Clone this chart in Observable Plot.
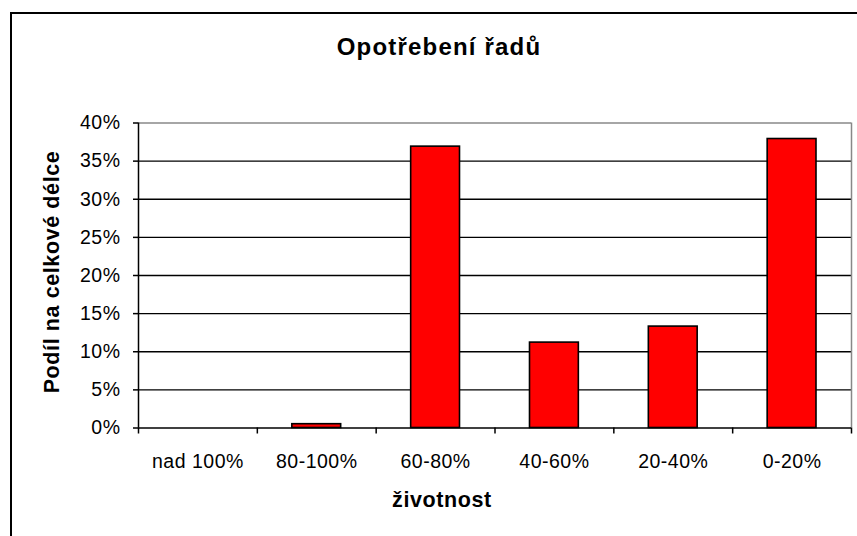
<!DOCTYPE html>
<html>
<head>
<meta charset="utf-8">
<script src="https://cdn.jsdelivr.net/npm/d3@7"></script>
<script src="https://cdn.jsdelivr.net/npm/@observablehq/plot@0.6"></script>
<style>
  html, body { margin: 0; padding: 0; background: #fff; overflow: hidden; }
  body { width: 857px; height: 536px; position: relative; font-family: "Liberation Sans", Arial, sans-serif; }
  #frame { position: absolute; left: 10px; top: 12px; width: 900px; height: 600px; border: 2px solid #000; box-sizing: border-box; }
  #chart { position: absolute; left: 0; top: 0; }
  .lbl { position: absolute; font-weight: bold; color: #000; white-space: nowrap; }
  #title { left: 0; width: 878px; top: 34.7px; text-align: center; font-size: 24px; line-height: 24px; letter-spacing: 1.2px; }
  #ylab { left: 52.5px; top: 271.5px; font-size: 21.5px; line-height: 21.5px; letter-spacing: 0.6px; transform: translate(-50%, -50%) rotate(-90deg); }
  #xlab { left: 442px; top: 501px; font-size: 21.5px; line-height: 21.5px; letter-spacing: 0.6px; transform: translate(-50%, -50%); }
</style>
</head>
<body>
<div id="frame"></div>
<div id="chart"></div>
<div class="lbl" id="title">Opotřebení řadů</div>
<div class="lbl" id="ylab">Podíl na celkové délce</div>
<div class="lbl" id="xlab">životnost</div>
<script>
const categories = ["nad 100%", "80-100%", "60-80%", "40-60%", "20-40%", "0-20%"];
const values = [0, 0.5, 36.9, 11.2, 13.3, 37.9];
const yTicks = [0, 5, 10, 15, 20, 25, 30, 35, 40];
const gridTicks = [5, 10, 15, 20, 25, 30, 35];

const data = categories.map((c, i) => ({cat: c, i, v: values[i]}));
const bounds = d3.range(categories.length + 1);
const centers = categories.map((c, i) => i + 0.5);

const plot = Plot.plot({
  width: 857,
  height: 536,
  marginLeft: 138,
  marginRight: 6,
  marginTop: 122.5,
  marginBottom: 108.5,
  style: {fontFamily: "Liberation Sans, Arial, sans-serif", fontSize: "19.5px", letterSpacing: "0.5px", color: "#000", background: "transparent"},
  x: {type: "linear", domain: [0, categories.length], axis: null},
  y: {domain: [0, 40], axis: null},
  marks: [
    Plot.gridY(gridTicks, {stroke: "#000", strokeOpacity: 1, strokeWidth: 1.3}),
    Plot.ruleY([40], {stroke: "#888", strokeWidth: 1.5}),
    Plot.ruleX([categories.length], {stroke: "#888", strokeWidth: 1.5}),
    Plot.rectY(data.filter(d => d.v > 0), {
      x1: "i", x2: d => d.i + 1, y: "v",
      fill: "#ff0000", stroke: "#000", strokeWidth: 1.6,
      insetLeft: 35, insetRight: 35
    }),
    Plot.ruleX([0], {stroke: "#000", strokeWidth: 1.5}),
    Plot.ruleY([0], {stroke: "#000", strokeWidth: 1.5}),
    Plot.axisY({ticks: yTicks, tickFormat: d => d + "%", tickSize: 5, tickPadding: 13, stroke: "#000", strokeWidth: 1.5, fontSize: 19.5, fill: "#000", label: null}),
    Plot.axisX({ticks: bounds, tickFormat: () => "", tickSize: 6, stroke: "#000", strokeWidth: 1.5, label: null}),
    Plot.axisX({ticks: centers, tickFormat: d => categories[Math.floor(d)], tickSize: 0, tickPadding: 26, fontSize: 19.5, fill: "#000", label: null})
  ]
});
document.getElementById("chart").appendChild(plot);
</script>
</body>
</html>
